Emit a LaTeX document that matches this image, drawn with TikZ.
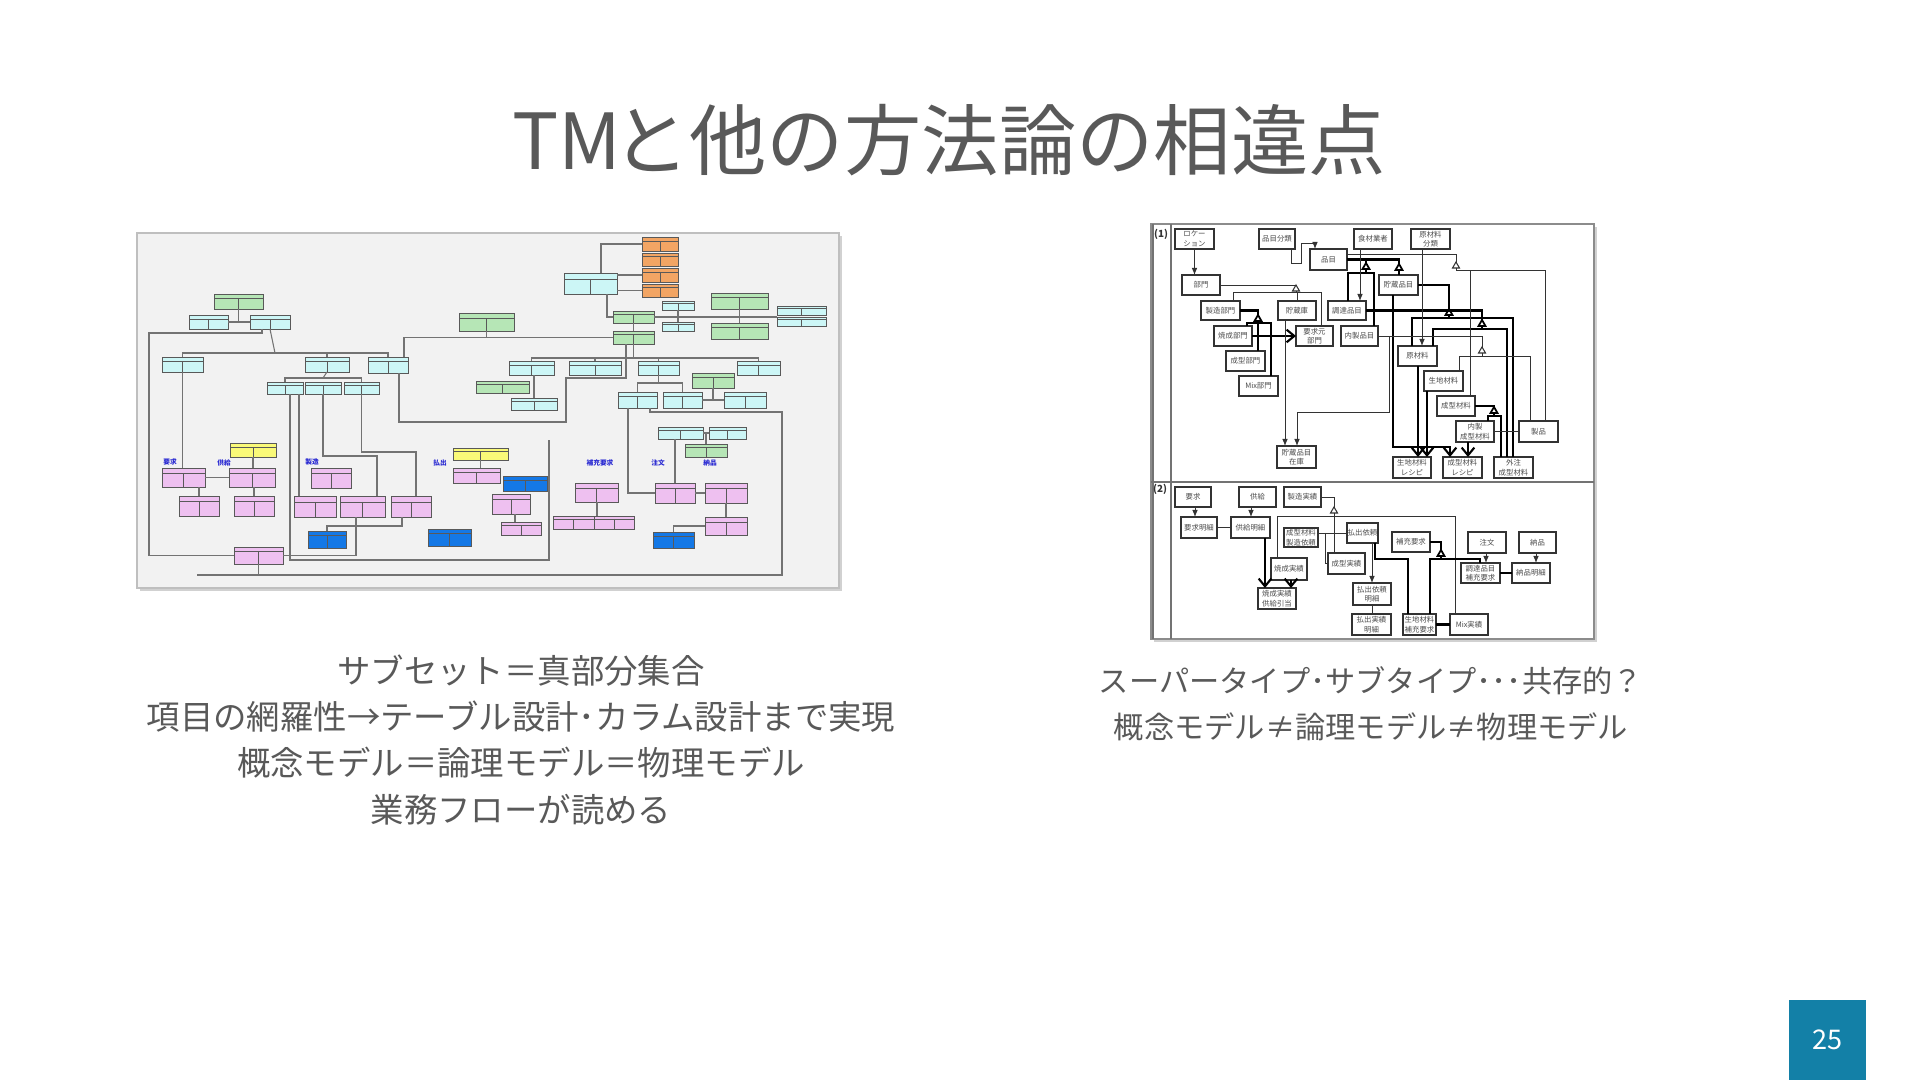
\documentclass[tikz,border=0pt]{standalone}
\usepackage{fontspec}
\setmainfont{Noto Sans CJK JP}
\usepackage{tikz}
\usetikzlibrary{calc,arrows.meta,shapes.geometric}

\definecolor{slidegray}{RGB}{89,89,89}
\definecolor{pagebox}{RGB}{19,128,167}
\definecolor{entcyan}{RGB}{204,246,246}
\definecolor{entgreen}{RGB}{182,230,182}
\definecolor{entorange}{RGB}{242,165,100}
\definecolor{entpink}{RGB}{238,192,240}
\definecolor{entyellow}{RGB}{250,250,120}
\definecolor{entblue}{RGB}{20,120,230}
\definecolor{lblblue}{RGB}{40,40,210}

\newcommand\rfont{\fontsize{2.1pt}{2.7pt}\selectfont}
\newcommand\lblfont{\fontsize{1.9pt}{2.2pt}\selectfont\bfseries}

% entity box of the left screenshot, corners in pixels
\newcommand\Ent[6][]{%
  \node[ent,#1,minimum width={(#5-#3)*0.01cm},minimum height={(#6-#4)*0.01cm}]
    (#2) at ({(#3+#5)/2},{(#4+#6)/2}) {};%
}
% box of the right screenshot, corners in pixels
\newcommand\Rbox[6]{%
  \node[rbox,minimum width={(#4-#2)*0.01cm},minimum height={(#5-#3)*0.01cm}]
    (#1) at ({(#2+#4)/2},{(#3+#5)/2}) {#6};%
}
% generalisation triangle
\newcommand\Tri[4][]{\node[gen,#1] (#2) at (#3,#4) {};}

\tikzset{%
  >=latex, % option for nice arrows
  ent/.style={draw=black!65,line width=0.25pt,inner sep=0pt,outer sep=0pt,
    path picture={
      \draw[black!65,line width=0.2pt]
        ($(path picture bounding box.north west)!0.28!(path picture bounding box.south west)$) --
        ($(path picture bounding box.north east)!0.28!(path picture bounding box.south east)$)
        ($(path picture bounding box.north)!0.28!(path picture bounding box.south)$) --
        (path picture bounding box.south);
    }},
  cyanbox/.style={fill=entcyan},
  greenbox/.style={fill=entgreen},
  orangebox/.style={fill=entorange},
  pinkbox/.style={fill=entpink},
  yellowbox/.style={fill=entyellow},
  bluebox/.style={fill=entblue},
  erline/.style={draw=black!55,line width=0.3pt},
  blulabel/.style={text=lblblue,font=\lblfont,inner sep=0pt},
  rbox/.style={draw=black!80,line width=0.35pt,fill=white,inner sep=0pt,
    outer sep=0pt,align=center,font=\rfont,text=black!70},
  gen/.style={regular polygon,regular polygon sides=3,draw=black!80,fill=white,
    minimum size=0.08cm,inner sep=0pt,outer sep=0pt,line width=0.3pt},
  thkgen/.style={line width=0.5pt,draw=black},
  conn/.style={draw=black!80,line width=0.25pt},
  thk/.style={draw=black,line width=0.6pt},
  tarr/.style={-{Latex[length=2pt,width=1.6pt]}},
  barb/.style={-{Straight Barb[length=2.2pt,width=3.6pt]}},
  sectlbl/.style={font=\fontsize{2.8pt}{3pt}\selectfont\bfseries,inner sep=0pt,text=black!80}
}

\begin{document}
\begin{tikzpicture}[x=0.01cm,y=-0.01cm] % one unit = one pixel, y down
  \useasboundingbox (0,0) rectangle (1920,1080);
  \fill[white] (0,0) rectangle (1920,1080);

  % title
  \node[font=\fontsize{22pt}{26pt}\selectfont,text=slidegray] (title) at (949,140)
    {TM\kern-0.12em と他の方法論の相違点};

  % ---------- left screenshot ----------
  \fill[black!18] (140,236) rectangle (842,591);
  \filldraw[fill=black!5,draw=black!25,line width=0.3pt] (137,233) rectangle (839,588);

  \foreach \na/\xa/\ya/\xb/\yb in {c1/189/315/228/329,c2/250/315/290/329,
      c3/162/357/203/372,c4/305/357/349/372,c5/368/357/408/373,
      c6/267/382/303/394,c7/305/382/341/394,c8/344/382/379/394,
      c9/564/273/617/294,c10/662/301/694/310,c11/662/322/694/331,
      c12/777/306/826/315,c13/777/317/826/326,c14/509/361/554/375,
      c15/569/361/621/375,c16/638/361/679/375,c17/737/361/780/375,
      c18/511/398/557/410,c19/618/392/657/408,c20/663/392/702/408,
      c21/724/392/766/408,c22/658/427/703/439,c23/709/427/746/439}
    {\Ent[cyanbox]{\na}{\xa}{\ya}{\xb}{\yb}}
  \foreach \na/\xa/\ya/\xb/\yb in {g1/214/294/263/309,g2/459/313/514/331,
      g3/476/381/529/393,g4/613/311/654/323,g5/613/331/654/344,
      g6/711/293/768/309,g7/711/323/768/339,g8/692/373/734/388,
      g9/685/444/727/457}
    {\Ent[greenbox]{\na}{\xa}{\ya}{\xb}{\yb}}
  \foreach \na/\ya/\yb in {o1/237/251,o2/253/266,o3/268/282,o4/284/297}
    {\Ent[orangebox]{\na}{642}{\ya}{678}{\yb}}
  \Ent[yellowbox]{y1}{230}{443}{276}{457}
  \Ent[yellowbox]{y2}{453}{448}{508}{460}
  \foreach \na/\xa/\ya/\xb/\yb in {p1/162/468/205/487,p2/229/468/275/487,
      p3/179/496/219/516,p4/234/496/274/516,p5/311/468/351/488,
      p6/294/496/336/517,p7/340/496/385/517,p8/391/496/431/517,
      p9/234/547/283/564,p10/453/468/500/483,p11/492/494/530/514,
      p12/501/522/541/535,p13/553/516/594/529,p14/594/516/634/529,
      p15/575/483/618/502,p16/655/483/695/503,p17/705/483/747/503,
      p18/705/517/747/535}
    {\Ent[pinkbox]{\na}{\xa}{\ya}{\xb}{\yb}}
  \foreach \na/\xa/\ya/\xb/\yb in {b1/308/531/346/548,b2/428/529/471/546,
      b3/503/476/547/491,b4/653/532/694/548}
    {\Ent[bluebox]{\na}{\xa}{\ya}{\xb}{\yb}}

  % relations
  \coordinate (jA) at (275,353);
  \coordinate (jB) at (323,378);
  \coordinate (jC) at (658.5,383);
  \coordinate (jD) at (633.5,358);
  \draw[erline] (c1.east) -- (c2.west);
  \draw[erline] (g1.south) -- (g1.south |- c1.east);
  \draw[erline] (c2.south) -- (jA);
  \draw[erline] (c3.north) |- (jA) -| (c5.north);
  \draw[erline] (c4.north) -- (c4.north |- jA);
  \draw[erline] (c4.south) -- (jB);
  \draw[erline] (c6.north) |- (jB) -| (c8.north);
  \draw[erline] (c3.south) -- (c3.south |- p1.north);
  \draw[erline] (262,329) |- (149,333) |- (p9.west);
  \draw[erline] (c6.south -| 299,0) -- (p6.north -| 299,0);
  \draw[erline] (c6.south -| 290,0) -- (290,560) -| (549,440);
  \draw[erline] (c7.south) |- (377,456) -- (p7.north -| 377,0);
  \draw[erline] (c8.south) |- (416,452) -- (p8.north -| 416,0);
  \draw[erline] (c5.south -| 399,0) |- (566,422) -- (566,378) -| (g5.south -| 626,0);
  \draw[erline] (c5.north -| 404,0) |- (g5.west);
  \draw[erline] (g2.south) -- (g2.south |- g5.west);
  \draw[erline] (g5.south) -- (jD);
  \draw[erline] (c14.north) |- (jD) -| (c17.north);
  \draw[erline] (c15.north) -- (c15.north |- jD);
  \draw[erline] (c16.north) -- (c16.north |- jD);
  \draw[erline] (c18.north) -- (c18.north |- c14.south);
  \draw[erline] (c16.south) -- (jC);
  \draw[erline] (c19.north) |- (jC) -| (c20.north);
  \draw[erline] (c20.east) -- (c21.west);
  \draw[erline] (g8.south) -- (g8.south |- c20.east);
  \draw[erline] (c19.south -| 650,0) |- (782,412) -- (782,575) -- (197,575);
  \draw[erline] (c19.south -| 628,0) |- (p16.west);
  \draw[erline] (c22.east) -- (c23.west);
  \draw[erline] (g9.north) -- (g9.north |- c22.east);
  \draw[erline] (c22.south -| 675,0) -- (p16.north -| 675,0);
  \draw[erline] (p16.east) -- (p17.west);
  \draw[erline] (p17.south) -- (p18.north);
  \draw[erline] (b4.north) |- (p18.west);
  \draw[erline] (c9.north -| 601,0) |- (o1.west);
  \draw[erline] (c9.east |- o3.west) -- (o3.west);
  \draw[erline] (c9.east |- o4.west) -- (o4.west);
  \draw[erline] (c9.south -| 607,0) |- (g4.west);
  \draw[erline] (g4.south) -- (g5.north);
  \draw[erline] (g4.east) -- (g4.east -| c13.west);
  \draw[erline] (g6.south) -- (g7.north);
  \draw[erline] (c10.south) -- (c11.north);
  \draw[erline] (y1.south) -- (p2.north -| y1.south);
  \draw[erline] (p1.east) -- (p2.west);
  \draw[erline] (p3.north) -- (p3.north |- p1.south);
  \draw[erline] (p2.south -| 254,0) -- (p4.north -| 254,0);
  \draw[erline] (p9.south) -- (p9.south |- 0,575);
  \draw[erline] (p9.east) -| (p7.south -| 356,0);
  \draw[erline] (b1.north) -- ++(0,-5) -| (p8.south -| 402,0);
  \draw[erline] (p12.north -| 515,0) -- (p11.south -| 515,0);
  \draw[erline] (p15.south -| 597,0) -- (p14.north -| 597,0);
  \draw[erline] (y2.south) -- (p10.north -| y2.south);

  % group labels
  \node[blulabel] (lyokyu) at (170,462) {要求};
  \node[blulabel] (lkyokyu) at (224,463) {供給};
  \node[blulabel] (lseizo) at (312,462) {製造};
  \node[blulabel] (lharai) at (440,463) {払出};
  \node[blulabel] (lhoju) at (600,463) {補充要求};
  \node[blulabel] (lchumon) at (658,463) {注文};
  \node[blulabel] (lnohin) at (710,463) {納品};

  % ---------- right screenshot ----------
  \fill[black!18] (1154,227) rectangle (1597,642);
  \filldraw[fill=white,draw=black!45,line width=0.4pt] (1151,224) rectangle (1594,639);
  \draw[black!55,line width=0.6pt] (1153,224) -- (1153,639);
  \draw[black!55,line width=0.4pt] (1171,224) -- (1171,639);
  \draw[black!55,line width=0.5pt] (1151,482) -- (1594,482);
  \node[sectlbl] (sec1) at (1161,234) {(1)};
  \node[sectlbl] (sec2) at (1160,489) {(2)};

  % (1)
  \Rbox{loc}{1175}{229}{1214}{249}{ロケー\\ション}
  \Rbox{hbun}{1259}{229}{1295}{249}{品目分類}
  \Rbox{hin}{1310}{249}{1347}{270}{品目}
  \Rbox{sgy}{1354}{229}{1392}{249}{食材業者}
  \Rbox{gbun}{1411}{229}{1450}{249}{原材料\\分類}
  \Rbox{bumon}{1182}{275}{1220}{295}{部門}
  \Rbox{cho}{1379}{275}{1418}{295}{貯蔵品目}
  \Rbox{sbu}{1201}{301}{1240}{320}{製造部門}
  \Rbox{chozo}{1278}{301}{1316}{320}{貯蔵庫}
  \Rbox{chot}{1328}{301}{1366}{320}{調達品目}
  \Rbox{yaki}{1214}{326}{1252}{346}{焼成部門}
  \Rbox{yokyu}{1296}{326}{1333}{346}{要求元\\部門}
  \Rbox{naisei}{1341}{326}{1378}{346}{内製品目}
  \Rbox{seib}{1226}{351}{1265}{371}{成型部門}
  \Rbox{mixb}{1239}{376}{1278}{396}{Mix部門}
  \Rbox{zaiko}{1277}{446}{1316}{468}{貯蔵品目\\在庫}
  \Rbox{gen}{1398}{346}{1437}{366}{原材料}
  \Rbox{kiji}{1424}{371}{1463}{391}{生地材料}
  \Rbox{seiz}{1437}{396}{1475}{416}{成型材料}
  \Rbox{nseiz}{1456}{421}{1494}{442}{内製\\成型材料}
  \Rbox{seihin}{1519}{421}{1558}{442}{製品}
  \Rbox{kreci}{1393}{457}{1431}{478}{生地材料\\レシピ}
  \Rbox{sreci}{1443}{457}{1482}{478}{成型材料\\レシピ}
  \Rbox{gaichu}{1494}{457}{1533}{478}{外注\\成型材料}

  \Tri{t1}{1296}{289}
  \Tri[thkgen]{t2}{1258}{319}
  \Tri[thkgen]{t3}{1366}{267}
  \Tri[thkgen]{t4}{1399}{268}
  \Tri[thkgen]{t5}{1449}{313}
  \Tri[thkgen]{t6}{1482}{324}
  \Tri{t7}{1456}{266}
  \Tri{t8}{1482}{351}
  \Tri[thkgen]{t9}{1494}{411}
  \coordinate (j1) at (1296,292);
  \coordinate (j2) at (1258,323);
  \coordinate (j3) at (1366,273);
  \coordinate (j5) at (1449,318);
  \coordinate (j6) at (1482,329);
  \coordinate (j7) at (1456,270);
  \coordinate (j8) at (1482,356);
  \coordinate (j9) at (1494,416);

  \draw[conn,tarr] (loc.south) -- (loc.south |- bumon.north);
  \draw[conn,tarr] (hbun.south -| 1291,0) |- (1301,263) |- (1315,243) -- (hin.north -| 1315,0);
  \draw[conn] (bumon.east) -| (t1.corner 1);
  \draw[conn] (t1.south) -- (j1);
  \draw[conn] (sbu.north -| 1233,0) |- (j1) -| (yokyu.north -| 1321,0);
  \draw[conn] (chozo.north |- j1) -- (chozo.north);
  \draw[thk] (sbu.east) -| (t2.corner 1);
  \draw[thk] (t2.south) -- (j2);
  \draw[thk] (yaki.north -| 1247,0) |- (j2) -| (mixb.north -| 1271,0);
  \draw[thk] (j2) -- (seib.north -| j2);
  \draw[thk,barb] (yaki.east) -- (yokyu.west);
  \draw[conn,tarr] (chozo.south -| 1285,0) -- (zaiko.north -| 1285,0);
  \draw[conn,tarr] (naisei.east) -| (1389,412) -| (zaiko.north -| 1297,0);
  \draw[thk] (hin.east) -| (t4.corner 1);
  \draw[thk] (t3.corner 1) -- (t3.corner 1 |- hin.east);
  \draw[thk] (t3.south) -- (j3);
  \draw[thk] (chot.north -| 1348,0) |- (j3) -| (naisei.north -| 1374,0);
  \draw[thk] (t4.south) -- (cho.north -| t4.south);
  \draw[thk] (cho.east) -| (t5.corner 1);
  \draw[thk] (t5.south) -- (j5);
  \draw[thk] (gen.north -| 1412,0) |- (j5) -| (gaichu.north -| 1513,0);
  \draw[thk] (chot.east) -| (t6.corner 1);
  \draw[thk] (t6.south) -- (j6);
  \draw[thk] (gen.north -| 1433,0) |- (j6) -| (gaichu.north -| 1507,0);
  \draw[thk,barb] (cho.south -| 1393,0) |- (1450,447) -- (sreci.north -| 1450,0);
  \draw[thk,barb] (gen.south -| 1418,0) -- (kreci.north -| 1418,0);
  \draw[thk,barb] (kiji.south -| 1427,0) -- (kreci.north -| 1427,0);
  \draw[thk,barb] (nseiz.south -| 1468,0) -- (sreci.north -| 1468,0);
  \draw[conn] (hin.east |- 0,254) -| (t7.corner 1);
  \draw[conn] (t7.south) -- (j7);
  \draw[conn] (seiz.north -| 1470,0) |- (j7) -| (seihin.north -| 1545,0);
  \draw[conn] (naisei.east) -| (t8.corner 1);
  \draw[conn] (t8.south) -- (j8);
  \draw[conn] (kiji.north -| 1459,0) |- (j8) -| (seihin.north -| 1530,0);
  \draw[thk] (seiz.east) -| (t9.corner 1);
  \draw[thk] (t9.south) -- (j9);
  \draw[thk] (nseiz.north -| 1488,0) |- (j9) -| (gaichu.north -| 1501,0);
  \draw[conn] (nseiz.east) -- (seihin.west);
  \draw[conn,tarr] (gbun.south -| 1422,0) -- (gen.north -| 1422,0);
  \draw[conn,tarr] (sgy.south -| 1360,0) -- (chot.north -| 1360,0);

  % (2)
  \Rbox{yk}{1175}{487}{1211}{507}{要求}
  \Rbox{kk}{1239}{487}{1276}{507}{供給}
  \Rbox{sj}{1284}{487}{1321}{507}{製造実績}
  \Rbox{ykm}{1181}{517}{1217}{538}{要求明細}
  \Rbox{kkm}{1231}{517}{1270}{538}{供給明細}
  \Rbox{sirai}{1284}{528}{1318}{547}{成型材料\\製造依頼}
  \Rbox{hirai}{1347}{523}{1378}{543}{払出依頼}
  \Rbox{hoju}{1392}{532}{1430}{552}{補充要求}
  \Rbox{chumon}{1468}{532}{1506}{553}{注文}
  \Rbox{nohin}{1519}{532}{1556}{553}{納品}
  \Rbox{yj}{1271}{558}{1307}{580}{焼成実績}
  \Rbox{sjj}{1328}{553}{1365}{574}{成型実績}
  \Rbox{chh}{1461}{563}{1500}{583}{調達品目\\補充要求}
  \Rbox{nhm}{1512}{563}{1550}{583}{納品明細}
  \Rbox{yjk}{1258}{588}{1296}{609}{焼成実績\\供給引当}
  \Rbox{hirm}{1353}{583}{1391}{605}{払出依頼\\明細}
  \Rbox{hjm}{1352}{614}{1391}{635}{払出実績\\明細}
  \Rbox{kjh}{1403}{614}{1436}{635}{生地材料\\補充要求}
  \Rbox{mixj}{1450}{614}{1488}{635}{Mix実績}

  \Tri{t10}{1334}{511}
  \Tri[thkgen]{t11}{1441}{554}
  \coordinate (j10) at (1334,516);
  \coordinate (j11) at (1441,559);
  \coordinate (jh) at (1408,559);

  \draw[conn,tarr] (yk.south -| 1195,0) -- (ykm.north -| 1195,0);
  \draw[conn,tarr] (kk.south -| 1251,0) -- (kkm.north -| 1251,0);
  \draw[conn] (ykm.east) -- (kkm.west);
  \draw[thk,barb] (kkm.south -| 1265,0) -- (yjk.north -| 1265,0);
  \draw[thk,barb] (yj.south -| 1291,0) -- (yjk.north -| 1291,0);
  \draw[conn] (sj.east) -| (t10.corner 1);
  \draw[conn] (t10.south) -- (j10);
  \draw[conn] (yj.north -| 1277,0) |- (j10) -| (mixj.north -| 1455,0);
  \draw[conn] (j10) -- (sjj.north -| j10);
  \draw[conn] (sirai.east |- hirai.west) -- (hirai.west);
  \draw[conn] (sirai.east |- hirai.west) ++(7,0) |- (sjj.west);
  \draw[conn,tarr] (hirai.south -| 1372,0) -- (hirm.north -| 1372,0);
  \draw[conn] (hirm.south -| 1372,0) -- (hjm.north -| 1372,0);
  \draw[thk] (hirai.south -| 1375,0) |- (jh) -- (kjh.north -| jh);
  \draw[thk] (hoju.east) -| (t11.corner 1);
  \draw[thk] (t11.south) -- (j11);
  \draw[thk] (kjh.north -| 1430,0) |- (j11) -| (chh.north -| 1480,0);
  \draw[conn,tarr] (chumon.south -| 1486,0) -- (chh.north -| 1486,0);
  \draw[conn,tarr] (nohin.south -| 1536,0) -- (nhm.north -| 1536,0);
  \draw[thk] (chh.east) -- (nhm.west);
  \draw[thk] (kjh.east) -- (mixj.west);

  % captions
  \node[font=\fontsize{9.5pt}{13.1pt}\selectfont,text=slidegray,align=center] (lefttext) at (521,740)
    {サブセット＝真部分集合\\項目の網羅性→テーブル設計･カラム設計まで実現\\概念モデル＝論理モデル＝物理モデル\\業務フローが読める};
  \node[font=\fontsize{8.6pt}{13.1pt}\selectfont,text=slidegray,align=center] (righttext) at (1371,704)
    {スーパータイプ･サブタイプ･･･共存的？\\概念モデル≠論理モデル≠物理モデル};

  % page number
  \node[fill=pagebox,minimum width=0.77cm,minimum height=0.8cm,inner sep=0pt,
    text=white,font=\fontsize{7.7pt}{9pt}\selectfont] (pnum) at (1827.5,1040) {25};
\end{tikzpicture}
\end{document}
